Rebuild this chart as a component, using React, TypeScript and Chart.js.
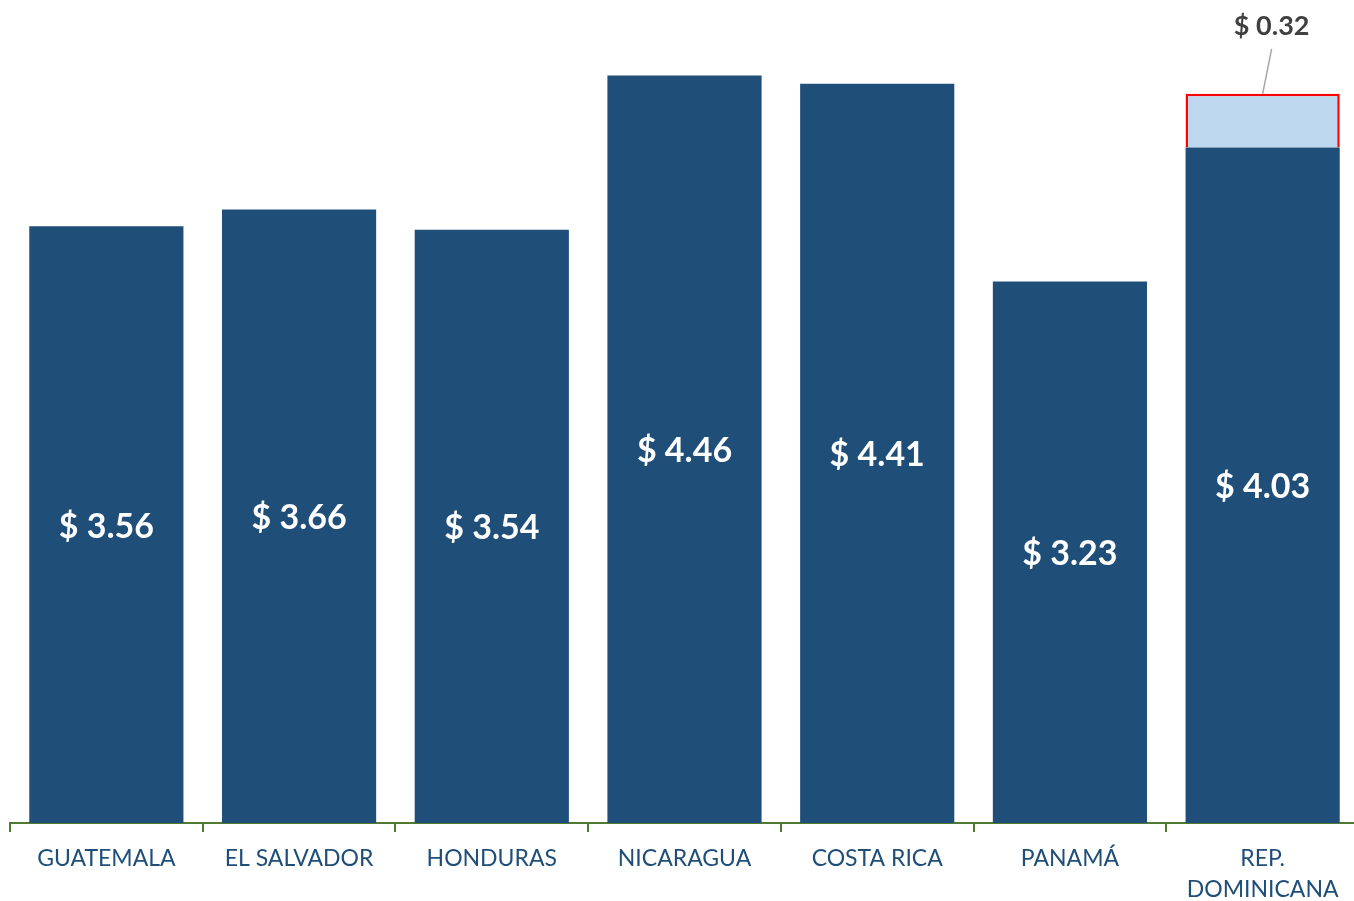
import React, { useEffect, useRef } from "react";
import { Chart, registerables } from "chart.js";

Chart.register(...registerables);

const categories: (string | string[])[] = [
  "GUATEMALA",
  "EL SALVADOR",
  "HONDURAS",
  "NICARAGUA",
  "COSTA RICA",
  "PANAMÁ",
  ["REP.", "DOMINICANA"],
];
const baseValues = [3.56, 3.66, 3.54, 4.46, 4.41, 3.23, 4.03];
const extraValues = [0, 0, 0, 0, 0, 0, 0.32];
const baseLabels = ["$ 3.56", "$ 3.66", "$ 3.54", "$ 4.46", "$ 4.41", "$ 3.23", "$ 4.03"];
const extraLabels = ["", "", "", "", "", "", "$ 0.32"];

const FONT = "Lato, 'Open Sans', sans-serif";

const labelPlugin = {
  id: "barLabels",
  afterDatasetsDraw(chart: any) {
    const ctx = chart.ctx;
    ctx.save();
    const m0 = chart.getDatasetMeta(0);
    ctx.fillStyle = "#FFFFFF";
    ctx.font = `bold 34px ${FONT}`;
    ctx.textAlign = "center";
    ctx.textBaseline = "middle";
    m0.data.forEach((bar: any, i: number) => {
      const { x, y, base } = bar.getProps(["x", "y", "base"], true);
      ctx.fillText(baseLabels[i], x, (y + base) / 2 + 2);
    });
    const m1 = chart.getDatasetMeta(1);
    m1.data.forEach((bar: any, i: number) => {
      if (!extraLabels[i]) return;
      const { x, y } = bar.getProps(["x", "y"], true);
      const lx = x + 9;
      const ly = y - 68;
      ctx.strokeStyle = "#A6A6A6";
      ctx.lineWidth = 1.5;
      ctx.beginPath();
      ctx.moveTo(lx, ly + 23);
      ctx.lineTo(x, y);
      ctx.stroke();
      ctx.fillStyle = "#404040";
      ctx.font = `bold 27px ${FONT}`;
      ctx.fillText(extraLabels[i], lx, ly);
    });
    ctx.restore();
  },
};

export default function App() {
  const ref = useRef<HTMLCanvasElement | null>(null);
  useEffect(() => {
    if (!ref.current) return;
    const chart = new Chart(ref.current, {
      type: "bar",
      data: {
        labels: categories,
        datasets: [
          {
            data: baseValues,
            backgroundColor: "#1F4E79",
            borderWidth: 0,
            categoryPercentage: 0.8,
            barPercentage: 1,
            stack: "s",
          },
          {
            data: extraValues,
            backgroundColor: "#BDD7EE",
            borderColor: "#FF0000",
            borderWidth: 2.5,
            categoryPercentage: 0.8,
            barPercentage: 1,
            stack: "s",
          },
        ],
      },
      options: {
        animation: false,
        responsive: false,
        maintainAspectRatio: false,
        layout: { padding: { left: 10, right: 3, top: 0, bottom: 0 } },
        plugins: { legend: { display: false }, tooltip: { enabled: false } },
        scales: {
          x: {
            stacked: true,
            afterFit: (s: any) => {
              s.height = 78;
            },
            border: { display: true, color: "#4F7A2F", width: 2 },
            grid: {
              display: true,
              offset: true,
              drawOnChartArea: false,
              drawTicks: true,
              tickLength: 9,
              color: "#4F7A2F",
              lineWidth: 2,
            },
            ticks: {
              color: "#1F4E79",
              padding: 11,
              maxRotation: 0,
              autoSkip: false,
              font: { family: FONT, size: 23, lineHeight: 1.35 },
            },
          },
          y: {
            stacked: true,
            display: false,
            min: 0,
            max: 4.91,
          },
        },
      },
      plugins: [labelPlugin],
    });
    return () => chart.destroy();
  }, []);
  return (
    <div
      style={{
        position: "fixed",
        left: 0,
        top: 0,
        width: 1354,
        height: 901,
        overflow: "hidden",
        background: "#FFFFFF",
      }}
    >
      <canvas ref={ref} width={1362} height={901} style={{ width: 1362, height: 901, display: "block" }} />
    </div>
  );
}
